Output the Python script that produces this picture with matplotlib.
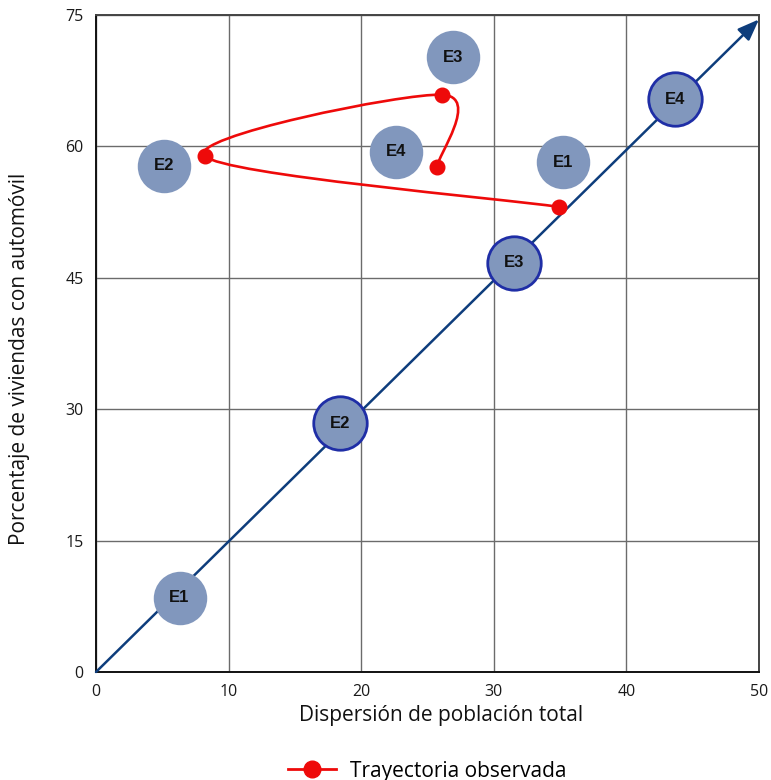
import numpy as np
import matplotlib
matplotlib.use("Agg")
import matplotlib.pyplot as plt
from matplotlib.path import Path
from matplotlib.patches import PathPatch
from matplotlib.lines import Line2D

# ---------------- data ----------------
diag_labels = ["E1", "E2", "E3", "E4"]
diag_x = [6.3, 18.4, 31.5, 43.7]
diag_y = [8.5, 28.4, 46.7, 65.4]
diag_edge = [False, True, True, True]

obs_labels = ["E1", "E2", "E3", "E4"]
obs_x = [35.2, 5.1, 26.9, 22.6]
obs_y = [58.2, 57.8, 70.2, 59.4]

traj_x = [34.9, 8.2, 26.1, 25.7]
traj_y = [53.1, 58.9, 65.9, 57.6]

arrow_start = (0, 0)
arrow_end = (50, 74.5)

xticks = [0, 10, 20, 30, 40, 50]
yticks = [0, 15, 30, 45, 60, 75]

xlabel = "Dispersión de población total"
ylabel = "Porcentaje de viviendas con automóvil"
legend_label = "Trayectoria observada"

# ---------------- style ----------------
plt.rcParams['font.family'] = ['Open Sans', 'DejaVu Sans']
circle_fill = "#8197bd"
circle_edge = "#1f2ea6"
arrow_col = "#0e3d7c"
red = "#ee0a0a"

fig = plt.figure(figsize=(7.71, 7.80), dpi=100)
ax = fig.add_axes([96/771, 1-672/780, (759-96)/771, (672-15)/780])
ax.set_xlim(0, 50)
ax.set_ylim(0, 75)
ax.set_xticks(xticks)
ax.set_yticks(yticks)
ax.grid(True, color="#6b6b6b", linewidth=1.0)
ax.set_axisbelow(True)
ax.tick_params(length=0, labelsize=11.5, pad=9, colors="#1a1a1a")
for s in ["left", "bottom"]:
    ax.spines[s].set_color("#111111")
    ax.spines[s].set_linewidth(1.4)
for s in ["top", "right"]:
    ax.spines[s].set_color("#444444")
    ax.spines[s].set_linewidth(1.4)
ax.set_xlabel(xlabel, fontsize=15, color="#111111")
ax.set_ylabel(ylabel, fontsize=15, color="#111111")
ax.xaxis.set_label_coords((441 - 96) / 663, -(705 - 672) / 657, transform=ax.transAxes)
ax.yaxis.set_label_coords(-(96 - 30) / 663, (672 - 359) / 657, transform=ax.transAxes)

# diagonal arrow
ax.annotate("", xy=arrow_end, xytext=arrow_start,
            arrowprops=dict(arrowstyle="-|>,head_length=1.3,head_width=0.5",
                            color=arrow_col, lw=1.8, shrinkA=0, shrinkB=0),
            zorder=3)

# circles
msize = 38.5
for lab, x, y, e in zip(diag_labels, diag_x, diag_y, diag_edge):
    ax.plot([x], [y], marker="o", markersize=msize, markerfacecolor=circle_fill,
            markeredgecolor=circle_edge if e else circle_fill,
            markeredgewidth=2.0 if e else 0, linestyle="none", zorder=4)
    ax.text(x, y, lab, ha="center", va="center", fontsize=12,
            fontweight="bold", family="Liberation Sans", color="#111111", zorder=5)
for lab, x, y in zip(obs_labels, obs_x, obs_y):
    ax.plot([x], [y], marker="o", markersize=msize, markerfacecolor=circle_fill,
            markeredgewidth=0, linestyle="none", zorder=4)
    ax.text(x, y, lab, ha="center", va="center", fontsize=12,
            fontweight="bold", family="Liberation Sans", color="#111111", zorder=5)

# Catmull-Rom trajectory (computed in display space)
fig.canvas.draw()
T = ax.transData
P = T.transform(np.column_stack([traj_x, traj_y]))
n = len(P)
verts = [tuple(P[0])]
codes = [Path.MOVETO]
for i in range(n - 1):
    p0 = P[i - 1] if i > 0 else P[i]
    p1 = P[i]
    p2 = P[i + 1]
    p3 = P[i + 2] if i + 2 < n else P[i + 1]
    c1 = p1 + (p2 - p0) / 6.0
    c2 = p2 - (p3 - p1) / 6.0
    verts += [tuple(c1), tuple(c2), tuple(p2)]
    codes += [Path.CURVE4] * 3
inv = T.inverted()
verts_d = inv.transform(np.array(verts))
patch = PathPatch(Path(verts_d, codes), facecolor="none", edgecolor=red,
                  linewidth=1.9, zorder=6, capstyle="round")
ax.add_patch(patch)
ax.plot(traj_x, traj_y, marker="o", markersize=10.5, color=red, linestyle="none",
        zorder=7)

# legend
handle = Line2D([], [], color=red, marker="o", markersize=12, linewidth=2.0)
fig.legend([handle], [legend_label], loc="center", bbox_to_anchor=(0.554, 1-771/780),
           frameon=False, fontsize=15, handlelength=2.3, handletextpad=0.7,
           borderpad=0.1)

fig.savefig("out.png", dpi=100)
